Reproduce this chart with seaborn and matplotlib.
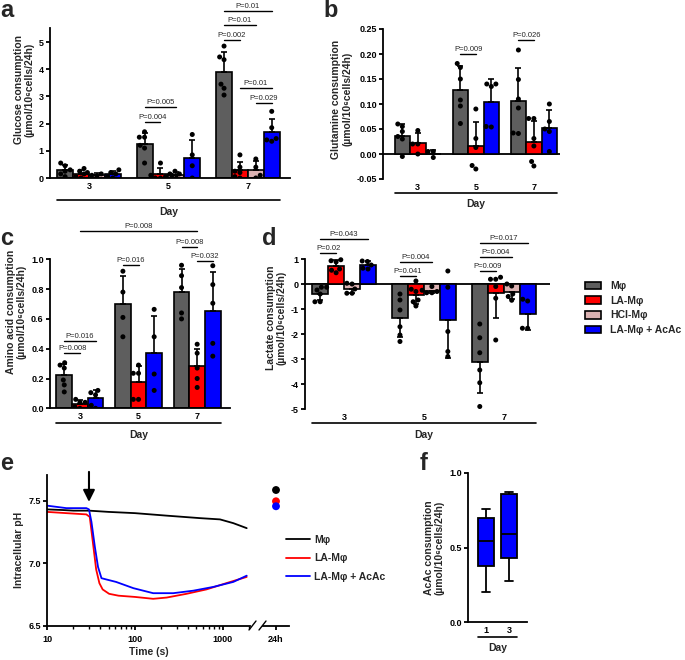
import numpy as np
import pandas as pd
import matplotlib
matplotlib.use("Agg")
import matplotlib.pyplot as plt
import matplotlib.transforms as mtransforms
from matplotlib.lines import Line2D
from matplotlib.patches import Patch
import seaborn as sns

W, H = 685, 660

# -------------------------------
# DATA

days = ["3", "5", "7"]
GROUPS = ["Mφ", "LA-Mφ", "HCl-Mφ", "LA-Mφ + AcAc"]
COLORS = {"Mφ": "#5e5e5e", "LA-Mφ": "#ff0000", "HCl-Mφ": "#dbb2b2", "LA-Mφ + AcAc": "#0000ff"}

# a - glucose (one list per day)
glu_m = [[0.55, 0.45, 0.3, 0.25, 0.15, 0.05], [1.7, 1.5, 1.5, 1.2, 1.1, 0.55], [4.85, 4.45, 4.35, 3.45, 3.3, 3.05]]
glu_la = [[0.35, 0.25, 0.15, 0.05, 0.0], [0.55, 0.15, 0.1, 0.05, 0.0, 0.0], [0.85, 0.4, 0.25, 0.2, 0.05, 0.0]]
glu_hcl = [[0.2, 0.15, 0.1, 0.05], [0.25, 0.15, 0.1, 0.0], [0.7, 0.4, 0.1, 0.0]]
glu_ac = [[0.3, 0.2, 0.15, 0.05, 0.0], [1.6, 0.85, 0.45, 0.0], [2.45, 1.85, 1.45, 1.4, 1.35]]

# b - glutamine
gln_m = [[0.06, 0.055, 0.045, 0.035, 0.03, -0.005], [0.181, 0.173, 0.15, 0.108, 0.096, 0.061], [0.208, 0.149, 0.11, 0.092, 0.042, 0.041]]
gln_la = [[0.047, 0.02, 0.02, 0.0], [0.09, 0.031, 0.013, -0.023, -0.03], [0.071, 0.071, 0.031, 0.016, -0.015, -0.024]]
gln_ac = [[-0.007, 0.005, 0.005], [0.14, 0.14, 0.135, 0.055, 0.054], [0.1, 0.065, 0.05, 0.045, 0.005]]

# c - amino acids
aa_m = [[0.306, 0.29, 0.27, 0.19, 0.157, 0.11], [0.92, 0.78, 0.61, 0.48], [0.96, 0.89, 0.81, 0.64, 0.6]]
aa_la = [[0.06, 0.04, 0.04, 0.01, 0.0], [0.29, 0.235, 0.235, 0.06, 0.06], [0.43, 0.37, 0.27, 0.2, 0.14]]
aa_ac = [[0.12, 0.105, 0.09, 0.02, 0.0], [0.664, 0.48, 0.23, 0.12], [0.957, 0.83, 0.705, 0.436, 0.35]]

# d - lactate
lac_m = [[-0.13, -0.13, -0.24, -0.4, -0.71, -0.71], [-0.4, -0.64, -1.04, -1.71, -2.04, -2.3], [-1.6, -2.15, -2.75, -3.44, -3.95, -4.9]]
lac_la = [[0.97, 0.93, 0.88, 0.6, 0.55, 0.45], [0.12, -0.21, -0.3, -0.64, -0.71, -0.88], [0.27, 0.19, 0.19, -0.1, -0.57, -2.24]]
lac_hcl = [[0.03, 0.0, -0.2, -0.37, -0.37], [-0.1, -0.25, -0.3, -0.35, -0.35], [0.0, -0.08, -0.4, -0.5, -0.65]]
lac_ac = [[0.92, 0.9, 0.76, 0.63, 0.6], [0.52, -0.13, -1.9, -2.7, -2.9], [-0.61, -0.68, -1.77, -1.77]]

# e - intracellular pH
E_NAMES = ["Mφ", "LA-Mφ", "LA-Mφ + AcAc"]
E_COLORS = ["#000000", "#ff0000", "#0000ff"]
time_m = [10, 15, 20, 30, 50, 100, 229, 550, 925, 1310, 1860]
ph_m = [7.43, 7.425, 7.42, 7.42, 7.41, 7.40, 7.38, 7.36, 7.35, 7.32, 7.28]
time_r = [10, 16.6, 28, 30.6, 33.3, 36.2, 39.4, 42.9, 50.8, 65, 100, 161, 229, 385, 648, 1090, 1860]
ph_r = [7.41, 7.40, 7.39, 7.37, 7.16, 6.95, 6.84, 6.79, 6.755, 6.74, 6.73, 6.715, 6.725, 6.755, 6.79, 6.84, 6.89]
time_b = [10, 16.6, 28, 30, 32, 35, 38, 41.6, 47.1, 61, 96, 161, 272, 460, 775, 1310, 1860]
ph_b = [7.46, 7.44, 7.44, 7.43, 7.33, 7.13, 6.97, 6.88, 6.87, 6.85, 6.80, 6.76, 6.76, 6.78, 6.81, 6.85, 6.9]
ph_24h = [7.585, 7.495, 7.455]

# f - AcAc consumption
f_days = ["1", "3"]
acac_d1 = [0.204, 0.378, 0.546, 0.70, 0.758]
acac_d3 = [0.275, 0.43, 0.589, 0.86, 0.875]

# -------------------------------
# STYLE

sns.set_style("ticks")
plt.rcParams["font.family"] = ["Liberation Sans", "DejaVu Sans"]
plt.rcParams["font.weight"] = "bold"
plt.rcParams["axes.labelweight"] = "bold"
plt.rcParams["axes.linewidth"] = 1.3
plt.rcParams["axes.edgecolor"] = "black"
plt.rcParams["xtick.color"] = "black"
plt.rcParams["ytick.color"] = "black"
plt.rcParams["xtick.major.width"] = 1.3
plt.rcParams["ytick.major.width"] = 1.3
plt.rcParams["xtick.major.size"] = 3
plt.rcParams["ytick.major.size"] = 3
plt.rcParams["xtick.minor.width"] = 1.0
plt.rcParams["xtick.minor.size"] = 2
plt.rcParams["xtick.labelsize"] = 6.5
plt.rcParams["ytick.labelsize"] = 6.5
plt.rcParams["axes.labelsize"] = 7.5

fig = plt.figure(figsize=(6.85, 6.6), dpi=100)


def add_ax(box):
    x0, y0, x1, y1 = box
    ax = fig.add_axes([x0 / W, 1 - y1 / H, (x1 - x0) / W, (y1 - y0) / H])
    ax.patch.set_alpha(0)
    return ax


def long_df(series, names):
    rows = []
    for name, per_day in zip(names, series):
        for d, vals in zip(days, per_day):
            for v in vals:
                rows.append((d, name, v))
    return pd.DataFrame(rows, columns=["day", "group", "value"])


def xpos(j, i, n):
    return j + (i - (n - 1) / 2) * 0.8 / n


def bar_panel(ax, series, names):
    df = long_df(series, names)
    n = len(names)
    sns.barplot(data=df, x="day", y="value", hue="group", order=days, hue_order=names,
                palette=[COLORS[g] for g in names], errorbar=None, width=0.8, saturation=1,
                edgecolor="black", linewidth=1.2, legend=False, ax=ax, zorder=2)
    stats = df.groupby(["group", "day"])["value"].agg(["mean", "std"])
    for i, g in enumerate(names):
        for j, d in enumerate(days):
            m, s = stats.loc[(g, d)]
            yerr = [[0], [s]] if m >= 0 else [[s], [0]]
            ax.errorbar(xpos(j, i, n), m, yerr=yerr, fmt="none", ecolor="black",
                        elinewidth=1.2, capsize=2.2, capthick=1.2, zorder=3)
    sns.swarmplot(data=df, x="day", y="value", hue="group", order=days, hue_order=names,
                  dodge=True, palette=["black"] * n, size=3.6, legend=False, ax=ax, zorder=4)
    ax.set_xlabel("")


def style_axes(ax, ylim, bounds, yticks, fmt, xlim, zero_axis=False):
    ax.set_ylim(*ylim)
    ax.set_xlim(*xlim)
    ax.spines[["top", "right"]].set_visible(False)
    ax.spines["left"].set_bounds(*bounds)
    ax.set_yticks(yticks, [fmt.format(t) for t in yticks])
    ax.tick_params(axis="x", length=0, pad=3)
    ax.tick_params(axis="y", pad=1.5)
    if zero_axis:
        ax.spines["bottom"].set_visible(False)
        ax.axhline(0, color="black", lw=1.3, zorder=1)


def day_axis(ax, box, x0, x1, line_px, text_px):
    top, bottom = box[1], box[3]
    tr = mtransforms.blended_transform_factory(ax.transData, ax.transAxes)
    f = lambda p: (bottom - p) / (bottom - top)
    ax.plot([x0, x1], [f(line_px)] * 2, transform=tr, color="black", lw=1.2, clip_on=False)
    ax.text((x0 + x1) / 2, f(text_px), "Day", transform=tr, ha="center", va="center",
            fontsize=7.5, fontweight="bold")


def pbar(ax, x1, x2, y, label):
    ax.plot([x1, x2], [y, y], color="black", lw=1.0, clip_on=False)
    ax.annotate(label, xy=((x1 + x2) / 2, y), xytext=(0, 0.8), textcoords="offset points",
                ha="center", va="bottom", fontsize=5.5, fontweight="normal", annotation_clip=False)


def letter(x, y, s):
    fig.text(x / W, 1 - y / H, s, fontsize=17, fontweight="bold", va="baseline")


UNIT = "(µmol/10⁶cells/24h)"

# -------------------------------
# a
box_a = (50, 1.2, 290, 178)
ax_a = add_ax(box_a)
bar_panel(ax_a, [glu_m, glu_la, glu_hcl, glu_ac], GROUPS)
style_axes(ax_a, (0, 6.5), (0, 5.5), [0, 1, 2, 3, 4, 5], "{:.0f}", (-0.49, 2.53))
ax_a.set_ylabel("Glucose consumption\n" + UNIT, linespacing=1.1, labelpad=3)
day_axis(ax_a, box_a, -0.4, 2.4, 200, 212)
pbar(ax_a, xpos(1, 0, 4), xpos(1, 1, 4), 2.06, "P=0.004")
pbar(ax_a, xpos(1, 0, 4), xpos(1, 2, 4), 2.6, "P=0.005")
pbar(ax_a, xpos(2, 0, 4), xpos(2, 1, 4), 5.07, "P=0.002")
pbar(ax_a, xpos(2, 0, 4), xpos(2, 2, 4), 5.63, "P=0.01")
pbar(ax_a, xpos(2, 0, 4), xpos(2, 3, 4), 6.15, "P=0.01")
pbar(ax_a, xpos(2, 1, 4), xpos(2, 3, 4), 3.3, "P=0.01")
pbar(ax_a, xpos(2, 2, 4), xpos(2, 3, 4), 2.75, "P=0.029")

# b
B_NAMES = ["Mφ", "LA-Mφ", "LA-Mφ + AcAc"]
box_b = (383, 19, 560, 179)
ax_b = add_ax(box_b)
bar_panel(ax_b, [gln_m, gln_la, gln_ac], B_NAMES)
style_axes(ax_b, (-0.05, 0.27), (-0.05, 0.25), [-0.05, 0, 0.05, 0.1, 0.15, 0.2, 0.25], "{:.2f}",
           (-0.6, 2.45), zero_axis=True)
ax_b.set_ylabel("Glutamine consumption\n" + UNIT, linespacing=1.1, labelpad=3)
day_axis(ax_b, box_b, -0.4, 2.4, 193, 204)
pbar(ax_b, xpos(1, 0, 3), xpos(1, 1, 3), 0.2, "P=0.009")
pbar(ax_b, xpos(2, 0, 3), xpos(2, 1, 3), 0.228, "P=0.026")

# c
box_c = (50, 214.6, 230, 408.3)
ax_c = add_ax(box_c)
bar_panel(ax_c, [aa_m, aa_la, aa_ac], B_NAMES)
style_axes(ax_c, (0, 1.3), (0, 1.0), [0, 0.2, 0.4, 0.6, 0.8, 1.0], "{:.1f}", (-0.51, 2.56))
ax_c.set_ylabel("Amino acid consumption\n" + UNIT, linespacing=1.1, labelpad=3)
day_axis(ax_c, box_c, -0.4, 2.4, 423, 435)
pbar(ax_c, xpos(0, 0, 3), xpos(0, 1, 3), 0.37, "P=0.008")
pbar(ax_c, xpos(0, 0, 3), xpos(0, 2, 3), 0.45, "P=0.016")
pbar(ax_c, xpos(1, 0, 3), xpos(1, 1, 3), 0.96, "P=0.016")
pbar(ax_c, xpos(2, 0, 3), xpos(2, 1, 3), 1.085, "P=0.008")
pbar(ax_c, xpos(2, 1, 3), xpos(2, 2, 3), 0.99, "P=0.032")
pbar(ax_c, xpos(0, 1, 3), xpos(2, 1, 3), 1.19, "P=0.008")

# d
box_d = (305, 226.5, 550, 409)
ax_d = add_ax(box_d)
bar_panel(ax_d, [lac_m, lac_la, lac_hcl, lac_ac], GROUPS)
style_axes(ax_d, (-5, 2.3), (-5, 1), [-5, -4, -3, -2, -1, 0, 1], "{:.0f}", (-0.49, 2.58), zero_axis=True)
ax_d.set_ylabel("Lactate consumption\n" + UNIT, linespacing=1.1, labelpad=3)
day_axis(ax_d, box_d, -0.4, 2.4, 423, 435)
pbar(ax_d, xpos(0, 0, 4), xpos(0, 1, 4), 1.23, "P=0.02")
pbar(ax_d, xpos(0, 0, 4), xpos(0, 3, 4), 1.79, "P=0.043")
pbar(ax_d, xpos(1, 0, 4), xpos(1, 1, 4), 0.32, "P=0.041")
pbar(ax_d, xpos(1, 0, 4), xpos(1, 2, 4), 0.89, "P=0.004")
pbar(ax_d, xpos(2, 0, 4), xpos(2, 1, 4), 0.53, "P=0.009")
pbar(ax_d, xpos(2, 0, 4), xpos(2, 2, 4), 1.09, "P=0.004")
pbar(ax_d, xpos(2, 0, 4), xpos(2, 3, 4), 1.65, "P=0.017")

# legend for a-d
handles = [Patch(facecolor=COLORS[g], edgecolor="black", linewidth=1.2, label=g) for g in GROUPS]
fig.legend(handles=handles, loc="upper left", bbox_to_anchor=(585 / W, 1 - 281 / H),
           frameon=False, fontsize=7.5, handlelength=1.5, handleheight=0.75,
           handletextpad=0.9, labelspacing=0.45, borderpad=0, borderaxespad=0)

# e
box_e = (47, 475, 250, 625.7)
ax_e = add_ax(box_e)
df_e = pd.concat([
    pd.DataFrame({"time": time_m, "pH": ph_m, "group": E_NAMES[0]}),
    pd.DataFrame({"time": time_r, "pH": ph_r, "group": E_NAMES[1]}),
    pd.DataFrame({"time": time_b, "pH": ph_b, "group": E_NAMES[2]}),
])
sns.lineplot(data=df_e, x="time", y="pH", hue="group", hue_order=E_NAMES, palette=E_COLORS,
             linewidth=1.3, ax=ax_e)
ax_e.set_xscale("log")
ax_e.set_xlim(10, 2028)
ax_e.set_ylim(6.5, 7.705)
ax_e.spines[["top", "right"]].set_visible(False)
ax_e.set_xticks([10, 100, 1000], ["10", "100", "1000"])
ax_e.set_yticks([6.5, 7.0, 7.5], ["6.5", "7.0", "7.5"])
ax_e.tick_params(axis="y", pad=1.5)
ax_e.set_xlabel("Time (s)", labelpad=2)
ax_e.set_ylabel("Intracellular pH", labelpad=3)
ax_e.annotate("", xy=(30, 7.49), xytext=(30, 7.73),
              arrowprops=dict(arrowstyle="-|>,head_width=0.35,head_length=0.7", color="black",
                              lw=1.5, shrinkA=0, shrinkB=0), annotation_clip=False)
h, l = ax_e.get_legend_handles_labels()
ax_e.legend(h, l, loc="upper left", bbox_to_anchor=(286 / W, 1 - 535 / H), bbox_transform=fig.transFigure,
            frameon=False, fontsize=7.5, handlelength=2.3, handletextpad=0.4, labelspacing=0.8,
            borderpad=0, borderaxespad=0)

box_e2 = (263, 475, 289, 625.7)
ax_e2 = add_ax(box_e2)
sns.scatterplot(x=[0.5] * 3, y=ph_24h, hue=E_NAMES, palette=E_COLORS, s=32, linewidth=0,
                legend=False, ax=ax_e2)
ax_e2.set_xlim(0, 1)
ax_e2.set_ylim(6.5, 7.705)
ax_e2.spines[["top", "right", "left"]].set_visible(False)
ax_e2.set_xticks([0.5], ["24h"])
ax_e2.set_yticks([])
for xa, xb in [(249, 256), (259, 266)]:
    fig.add_artist(Line2D([xa / W, xb / W], [1 - 630 / H, 1 - 621 / H], color="black", lw=1.0))

# f
box_f = (468, 473, 527, 622)
ax_f = add_ax(box_f)
df_f = pd.DataFrame({"day": [f_days[0]] * len(acac_d1) + [f_days[1]] * len(acac_d3),
                     "value": acac_d1 + acac_d3})
sns.boxplot(data=df_f, x="day", y="value", order=f_days, color="#0000ff", saturation=1,
            whis=(0, 100), width=0.7, linecolor="black", linewidth=1.3, fliersize=0, ax=ax_f)
ax_f.set_xlim(-0.78, 1.78)
ax_f.set_ylim(0, 1.0)
ax_f.spines[["top", "right"]].set_visible(False)
ax_f.set_yticks([0, 0.5, 1.0], ["0.0", "0.5", "1.0"])
ax_f.tick_params(axis="x", length=0, pad=3)
ax_f.tick_params(axis="y", pad=1.5)
ax_f.set_xlabel("")
ax_f.set_ylabel("AcAc consumption\n" + UNIT, linespacing=1.1, labelpad=3)
day_axis(ax_f, box_f, -0.35, 1.35, 637, 648)

# panel letters
letter(0, 17, "a")
letter(323, 17, "b")
letter(0, 245, "c")
letter(262, 245, "d")
letter(0, 470, "e")
letter(420, 470, "f")

fig.savefig("out.png", dpi=100)
